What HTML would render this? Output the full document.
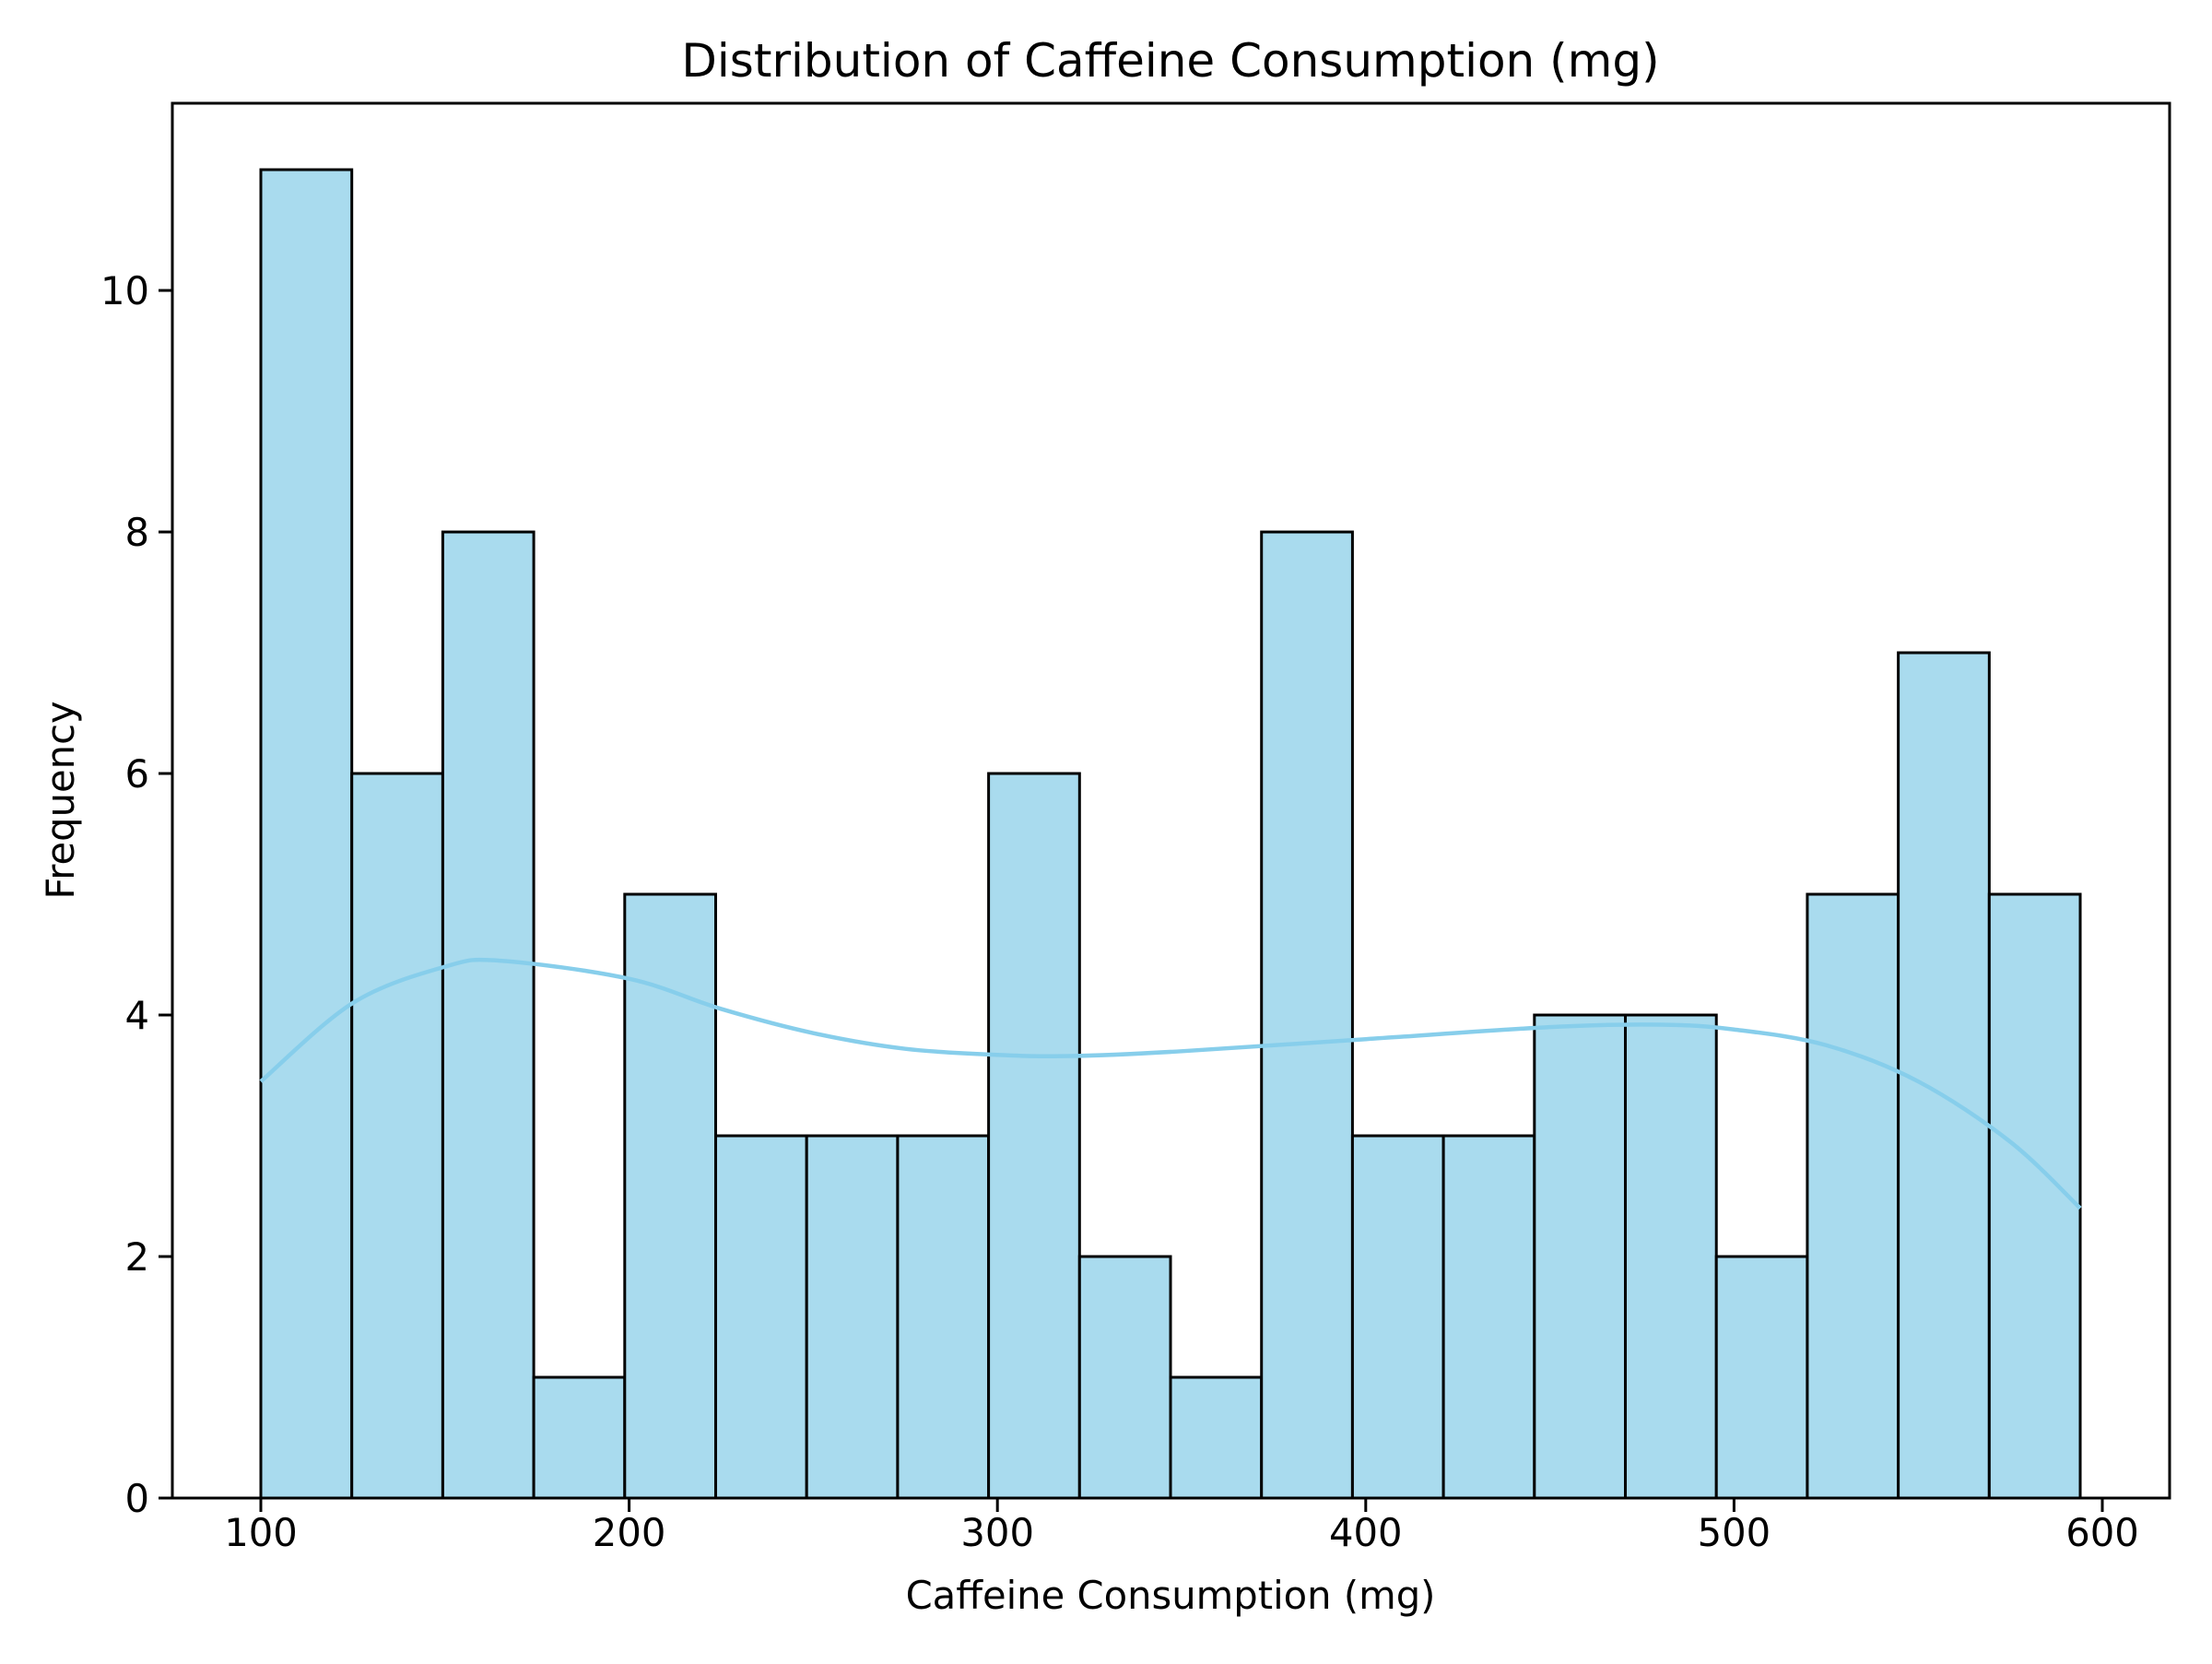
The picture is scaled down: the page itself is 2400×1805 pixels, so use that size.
<!DOCTYPE html>
<html><head><meta charset="utf-8"><style>html,body{margin:0;padding:0;background:#fff}svg text{font-family:"DejaVu Sans","Liberation Sans",sans-serif;fill:#000}</style></head>
<body>
<svg id="chart" width="2400" height="1800" viewBox="0 0 2400 1800" xmlns="http://www.w3.org/2000/svg">
<rect width="2400" height="1800" fill="#fff"/>
<g id="bars"></g>
<g id="kde"></g>
<g id="axes"></g>
<text x="1270" y="83" font-size="50" text-anchor="middle">Distribution of Caffeine Consumption (mg)</text>
<text x="1270" y="1745" font-size="41.7" text-anchor="middle">Caffeine Consumption (mg)</text>
<text x="0" y="0" font-size="41.7" text-anchor="middle" transform="translate(80,868) rotate(-90)">Frequency</text>
</svg>
<script>
const binStart = 100;
const binWidth = 24.7;
const counts = [11,6,8,1,5,3,3,3,6,2,1,8,3,3,4,4,2,5,7,5];
const kdeX = [100,125,150,165,200,225,250,275,300,320,350,400,450,480,500,525,550,575,594];
const kdeY = [3.45,4.1,4.4,4.45,4.3,4.05,3.85,3.72,3.67,3.66,3.7,3.8,3.9,3.92,3.88,3.75,3.45,2.95,2.4];
const xTicks = [100,200,300,400,500,600];
const yTicks = [0,2,4,6,8,10];

const L=187,R=2354,T=112,B=1625;
const X0=75.3,X1=619.5,Y0=0,Y1=11.55;
const sx=v=>283+(v-100)*(2281-283)/500;
const sy=v=>B-(v-Y0)*(B-T)/(Y1-Y0);
const NS='http://www.w3.org/2000/svg';
function mk(tag,attrs,parent){const e=document.createElementNS(NS,tag);for(const k in attrs)e.setAttribute(k,attrs[k]);parent.appendChild(e);return e;}
const gb=document.getElementById('bars');
counts.forEach((c,i)=>{
  const x0=sx(binStart+i*binWidth),x1=sx(binStart+(i+1)*binWidth);
  const r=mk('rect',{x:x0,y:sy(c),width:x1-x0,height:sy(0)-sy(c),fill:'#a9dbee',stroke:'#000','stroke-width':3},gb);
  
  
});
const gk=document.getElementById('kde');
const pts=kdeX.map((x,i)=>[sx(x),sy(kdeY[i])]);
let d='M'+pts[0][0]+','+pts[0][1];
for(let i=0;i<pts.length-1;i++){
  const p0=pts[Math.max(0,i-1)],p1=pts[i],p2=pts[i+1],p3=pts[Math.min(pts.length-1,i+2)];
  const c1=[p1[0]+(p2[0]-p0[0])/6,p1[1]+(p2[1]-p0[1])/6],c2=[p2[0]-(p3[0]-p1[0])/6,p2[1]-(p3[1]-p1[1])/6];
  d+=` C${c1[0]},${c1[1]} ${c2[0]},${c2[1]} ${p2[0]},${p2[1]}`;
}
const kp=mk('path',{d:d,fill:'none',stroke:'#87ceeb','stroke-width':4.5},gk);


const ga=document.getElementById('axes');
const frame=mk('rect',{x:L,y:T,width:R-L,height:B-T,fill:'none',stroke:'#000','stroke-width':3},ga);


xTicks.forEach(v=>{
  const x=sx(v);
  const t=mk('line',{x1:x,x2:x,y1:B,y2:B+15,stroke:'#000','stroke-width':3},ga);
  
  
  const l=mk('text',{x:x,y:B+52,'font-size':41.7,'text-anchor':'middle'},ga);
  l.textContent=v;
  
  
});
yTicks.forEach(v=>{
  const y=sy(v);
  const t=mk('line',{x1:L-15,x2:L,y1:y,y2:y,stroke:'#000','stroke-width':3},ga);
  
  
  const l=mk('text',{x:L-25,y:y+15,'font-size':41.7,'text-anchor':'end'},ga);
  l.textContent=v;
  
  
});
</script>
</body></html>
